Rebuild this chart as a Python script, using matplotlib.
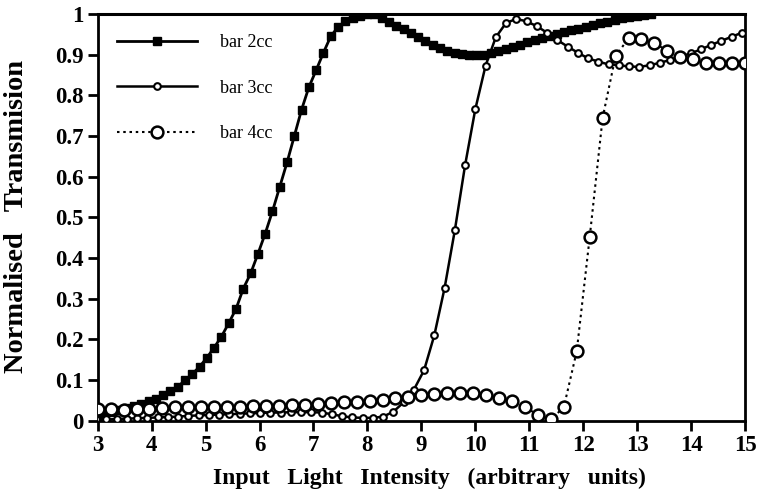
import numpy as np
import matplotlib
matplotlib.use("Agg")
import matplotlib.pyplot as plt

# ---- data ----
x_2cc = 3 + 0.135 * np.arange(77)
y_2cc = [0.012, 0.018, 0.022, 0.027, 0.031, 0.036, 0.041, 0.048, 0.054, 0.062,
         0.072, 0.084, 0.099, 0.115, 0.133, 0.155, 0.180, 0.207, 0.240, 0.275,
         0.325, 0.362, 0.410, 0.460, 0.515, 0.575, 0.635, 0.700, 0.765, 0.820,
         0.862, 0.905, 0.945, 0.968, 0.982, 0.990, 0.996, 1.000, 1.000, 0.990,
         0.980, 0.970, 0.962, 0.953, 0.944, 0.934, 0.925, 0.917, 0.910, 0.905,
         0.901, 0.899, 0.898, 0.899, 0.903, 0.908, 0.915, 0.920, 0.925, 0.930,
         0.935, 0.940, 0.945, 0.950, 0.955, 0.960, 0.964, 0.968, 0.972, 0.977,
         0.981, 0.985, 0.989, 0.992, 0.995, 0.997, 0.999]

x_3cc = 2.97 + 0.19 * np.arange(64)
y_3cc = [0.003, 0.003, 0.004, 0.005, 0.006, 0.007, 0.008, 0.009, 0.010, 0.012,
         0.013, 0.014, 0.015, 0.016, 0.017, 0.018, 0.019, 0.020, 0.020, 0.021,
         0.021, 0.021, 0.020, 0.016, 0.011, 0.008, 0.007, 0.007, 0.010, 0.022,
         0.045, 0.076, 0.124, 0.210, 0.326, 0.468, 0.628, 0.766, 0.873, 0.943,
         0.978, 0.988, 0.982, 0.970, 0.954, 0.936, 0.920, 0.905, 0.891, 0.883,
         0.876, 0.874, 0.871, 0.870, 0.874, 0.880, 0.887, 0.895, 0.903, 0.913,
         0.924, 0.934, 0.944, 0.954]

x_4cc = 3 + 0.24 * np.arange(51)
y_4cc = [0.030, 0.028, 0.027, 0.028, 0.030, 0.032, 0.034, 0.034, 0.034, 0.034,
         0.034, 0.034, 0.035, 0.036, 0.037, 0.038, 0.039, 0.041, 0.043, 0.045,
         0.047, 0.049, 0.052, 0.055, 0.059, 0.063, 0.066, 0.069, 0.069, 0.069,
         0.064, 0.057, 0.049, 0.034, 0.014, 0.003, 0.033, 0.171, 0.451, 0.745,
         0.897, 0.940, 0.938, 0.928, 0.910, 0.895, 0.889, 0.880, 0.880, 0.880,
         0.880]

labels = ["bar 2cc", "bar 3cc", "bar 4cc"]
xticks = list(range(3, 16))
yticks = [0, 0.1, 0.2, 0.3, 0.4, 0.5, 0.6, 0.7, 0.8, 0.9, 1]
ytick_labels = ["0", "0.1", "0.2", "0.3", "0.4", "0.5", "0.6", "0.7", "0.8", "0.9", "1"]

# ---- figure ----
serif = ["Liberation Serif", "DejaVu Serif"]
fig = plt.figure(figsize=(7.63, 4.97), dpi=100)
ax = fig.add_axes([0.128, 0.1535, 0.8485, 0.8183])

ax.plot(x_2cc, y_2cc, color="black", lw=2.0, marker="s", markersize=5.8,
        markerfacecolor="black", markeredgecolor="black", label=labels[0], zorder=3)
ax.plot(x_3cc, y_3cc, color="black", lw=1.8, marker="o", markersize=4.8,
        markerfacecolor="white", markeredgecolor="black", markeredgewidth=1.5,
        label=labels[1], zorder=4)
ax.plot(x_4cc, y_4cc, color="black", lw=1.5, ls=(0, (1.2, 1.8)), marker="o",
        markersize=8.5, markerfacecolor="white", markeredgecolor="black",
        markeredgewidth=1.8, label=labels[2], zorder=5)

ax.set_xlim(3, 15)
ax.set_ylim(0, 1)
ax.set_xticks(xticks)
ax.set_xticklabels([str(t) for t in xticks])
ax.set_yticks(yticks)
ax.set_yticklabels(ytick_labels)
for lab in ax.get_xticklabels() + ax.get_yticklabels():
    lab.set_fontfamily(serif)
    lab.set_fontweight("bold")
    lab.set_fontsize(16.5)
ax.tick_params(axis="both", direction="out", length=7, width=2, pad=3)
for s in ax.spines.values():
    s.set_linewidth(2)
ax.spines["top"].set_linewidth(2.2)

ax.set_xlabel("Input   Light   Intensity   (arbitrary   units)", fontfamily=serif,
              fontweight="bold", fontsize=17)
ax.xaxis.set_label_coords(0.512, -0.115)
ax.set_ylabel("Normalised   Transmision", fontfamily=serif, fontweight="bold",
              fontsize=20.5)
ax.yaxis.set_label_coords(-0.106, 0.503)

leg = ax.legend(loc="upper left", bbox_to_anchor=(0.019, 0.968), frameon=False,
                prop={"family": serif, "size": 13}, handlelength=4.4,
                handletextpad=1.3, labelspacing=1.58, borderaxespad=0.0)

fig.savefig("out.png", dpi=100)
